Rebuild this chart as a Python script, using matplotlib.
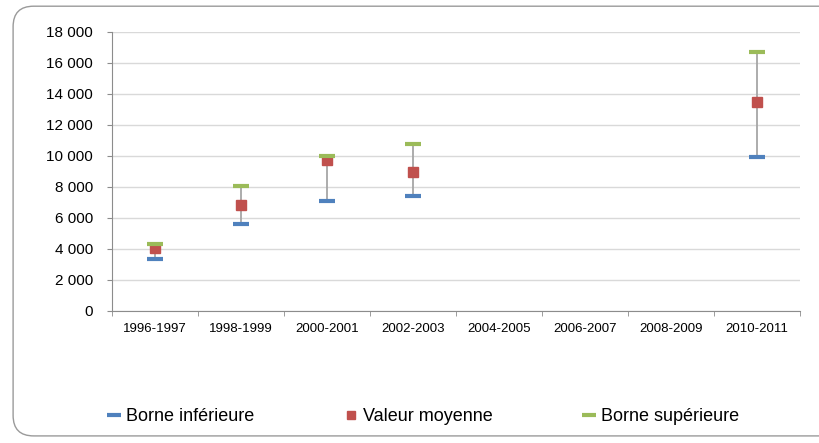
import numpy as np
import matplotlib.pyplot as plt
from matplotlib.patches import FancyBboxPatch
from matplotlib.ticker import FuncFormatter, FixedLocator

# Données
periodes = ["1996-1997", "1998-1999", "2000-2001", "2002-2003",
            "2004-2005", "2006-2007", "2008-2009", "2010-2011"]
borne_inf = [3380, 5590, 7100, 7420, np.nan, np.nan, np.nan, 9960]
valeur_moy = [4050, 6820, 9720, 8990, np.nan, np.nan, np.nan, 13460]
borne_sup = [4340, 8080, 10000, 10800, np.nan, np.nan, np.nan, 16690]

plt.rcParams["font.family"] = ["Liberation Sans", "DejaVu Sans"]

fig = plt.figure(figsize=(8.19, 4.43), dpi=100)
ax = fig.add_axes([0.1368, 0.298, 0.8402, 0.63])

# cadre arrondi autour du graphique
cadre = FancyBboxPatch((0.016, 0.016), 1.2, 0.97, boxstyle="round,pad=0,rounding_size=0.025",
                       transform=fig.transFigure, facecolor="none",
                       edgecolor="#9a9a9a", linewidth=1.0, mutation_aspect=819 / 443)
fig.patches.append(cadre)

x = np.arange(len(periodes))
ax.vlines(x, borne_inf, borne_sup, color="#a6a6a6", linewidth=1.3, zorder=2)
ax.plot(x, borne_inf, linestyle="none", marker="_", markersize=11.5, markeredgewidth=3,
        color="#4f81bd", label="Borne inférieure", zorder=3)
ax.plot(x, valeur_moy, linestyle="none", marker="s", markersize=7,
        color="#c0504d", label="Valeur moyenne", zorder=3)
ax.plot(x, borne_sup, linestyle="none", marker="_", markersize=11.5, markeredgewidth=3,
        color="#9bbb59", label="Borne supérieure", zorder=3)

ax.set_xlim(-0.5, len(periodes) - 0.5)
ax.set_ylim(0, 18000)
ax.set_yticks(np.arange(0, 18001, 2000))
ax.yaxis.set_major_formatter(FuncFormatter(lambda v, p: f"{int(v):,}".replace(",", " ")))
ax.grid(axis="y", color="#d9d9d9", linewidth=1)
ax.set_axisbelow(True)

ax.set_xticks(x)
ax.set_xticklabels(periodes, fontsize=9.5)
ax.tick_params(axis="x", length=0, pad=9)
ax.xaxis.set_minor_locator(FixedLocator(np.arange(-0.5, len(periodes), 1)))
ax.tick_params(axis="x", which="minor", length=3.6, color="#8c8c8c", direction="out")
ax.tick_params(axis="y", labelsize=11, length=3.6, color="#8c8c8c", pad=10)

for s in ["top", "right"]:
    ax.spines[s].set_visible(False)
for s in ["left", "bottom"]:
    ax.spines[s].set_color("#8c8c8c")

fig.legend(loc="center", bbox_to_anchor=(0.517, 0.06), ncol=3, frameon=False,
           fontsize=13, columnspacing=5.0, handlelength=0.7, handletextpad=0.3,
           markerscale=0.9)

plt.savefig("out.png", dpi=100)
